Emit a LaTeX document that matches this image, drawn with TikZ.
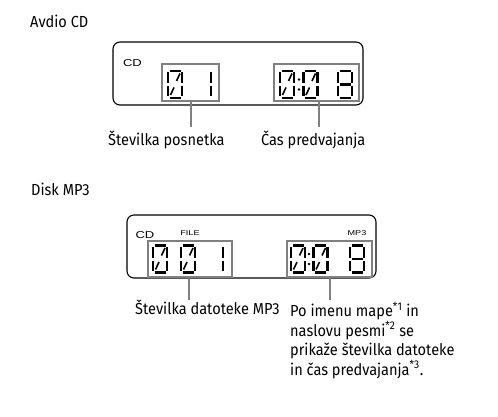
\documentclass[tikz,border=0pt]{standalone}
\usepackage{fontspec}
\setmainfont{Fira Sans}[FakeStretch=0.91]
\newfontfamily\lcdfont{Liberation Sans}[FakeStretch=1.3]
\usepackage{tikz}
\usetikzlibrary{positioning}

\tikzset{
  display/.style={draw, line width=1.1pt, rounded corners=7pt},
  digitbox/.style={draw=black!50, line width=1.8pt},
  leader/.style={draw=black!50, line width=1.8pt},
  seg/.style={line width=2.6pt},
  lbl/.style={font=\fontsize{16}{19.5}\selectfont, inner sep=0pt, anchor=mid west},
  lcdlbl/.style={font=\lcdfont\fontsize{10}{10}\selectfont, inner sep=0pt},
  lcdsmall/.style={font=\lcdfont\fontsize{7}{7}\selectfont, inner sep=0pt},
  pics/lcdzero/.style={code={
    \draw[seg] (2.5,1) -- (13.5,1);
    \draw[seg] (2.5,28) -- (13.5,28);
    \draw[seg] (1,2.5) -- (1,13);
    \draw[seg] (1,16) -- (1,26.5);
    \draw[seg] (15,2.5) -- (15,13);
    \draw[seg] (15,16) -- (15,26.5);
    \draw[line width=1.6pt] (3.5,25) -- (7,17.5);
    \draw[line width=1.6pt] (9.5,11) -- (13,3.5);
  }},
  pics/lcdeight/.style={code={
    \draw[seg] (2.5,1) -- (13.5,1);
    \draw[seg] (2.5,14.5) -- (13.5,14.5);
    \draw[seg] (2.5,28) -- (13.5,28);
    \draw[seg] (1,2.5) -- (1,13);
    \draw[seg] (1,16) -- (1,26.5);
    \draw[seg] (15,2.5) -- (15,13);
    \draw[seg] (15,16) -- (15,26.5);
  }},
  pics/lcdone/.style={code={
    \draw[seg] (15,2.5) -- (15,13);
    \draw[seg] (15,16) -- (15,26.5);
  }},
  pics/lcdcolon/.style={code={
    \fill (0,9.5) circle (1.3);
    \fill (0,19.5) circle (1.3);
  }},
}

\begin{document}
\begin{tikzpicture}[x=1pt, y=-1pt]
  \useasboundingbox (0,0) rectangle (498,417);

  % Avdio CD
  \node[lbl] (cdtitle) at (30,25) {Avdio CD};
  \node[display, minimum width=250pt, minimum height=63pt] (cddisp) at (238,73.5) {};
  \node[lcdlbl] (cdmark) at (132.5,63) {CD};
  \node[digitbox, minimum width=57pt, minimum height=37pt] (trackbox) at (190.5,82.5) {};
  \node[digitbox, minimum width=85pt, minimum height=37pt] (timebox) at (316.5,82.5) {};
  \pic at (167,70) {lcdzero};
  \pic at (196,70) {lcdone};
  \pic at (279,70) {lcdzero};
  \pic at (299,70) {lcdcolon};
  \pic at (302.5,70) {lcdzero};
  \pic at (337,70) {lcdeight};
  \coordinate (trackend) at (191,127);
  \coordinate (timeend) at (319,127);
  \draw[leader] (trackbox.south -| trackend) -- (trackend);
  \draw[leader] (timebox.south -| timeend) -- (timeend);
  \node[lbl] (tracklbl) at (108,143) {Številka posnetka};
  \node[lbl] (timelbl) at (261,143) {Čas predvajanja};

  % Disk MP3
  \node[lbl] (mp3title) at (31,193) {Disk MP3};
  \node[display, minimum width=249pt, minimum height=63pt] (mp3disp) at (251.5,246.5) {};
  \node[lcdlbl] (mp3cdmark) at (145,235) {CD};
  \node[lcdsmall] (filemark) at (190,233) {FILE};
  \node[lcdsmall] (mp3mark) at (357,233) {MP3};
  \node[digitbox, minimum width=84pt, minimum height=36pt] (filebox) at (190,259) {};
  \node[digitbox, minimum width=85pt, minimum height=36pt] (mp3timebox) at (329.5,259) {};
  \pic at (152,244.5) {lcdzero};
  \pic at (180,244.5) {lcdzero};
  \pic at (208,244.5) {lcdone};
  \pic at (290,244.5) {lcdzero};
  \pic at (309,244.5) {lcdcolon};
  \pic at (312.5,244.5) {lcdzero};
  \pic at (349,244.5) {lcdeight};
  \coordinate (fileend) at (189,300);
  \coordinate (mp3timeend) at (330,300);
  \draw[leader] (filebox.south -| fileend) -- (fileend);
  \draw[leader] (mp3timebox.south -| mp3timeend) -- (mp3timeend);
  \node[lbl] (filelbl) at (135,312) {Številka datoteke MP3};
  \node[lbl, anchor=north west, align=left] (mp3note) at (290,302)
    {Po imenu mape\textsuperscript{*1} in\\
     naslovu pesmi\textsuperscript{*2} se\\
     prikaže številka datoteke\\
     in čas predvajanja\textsuperscript{*3}.};
\end{tikzpicture}
\end{document}
